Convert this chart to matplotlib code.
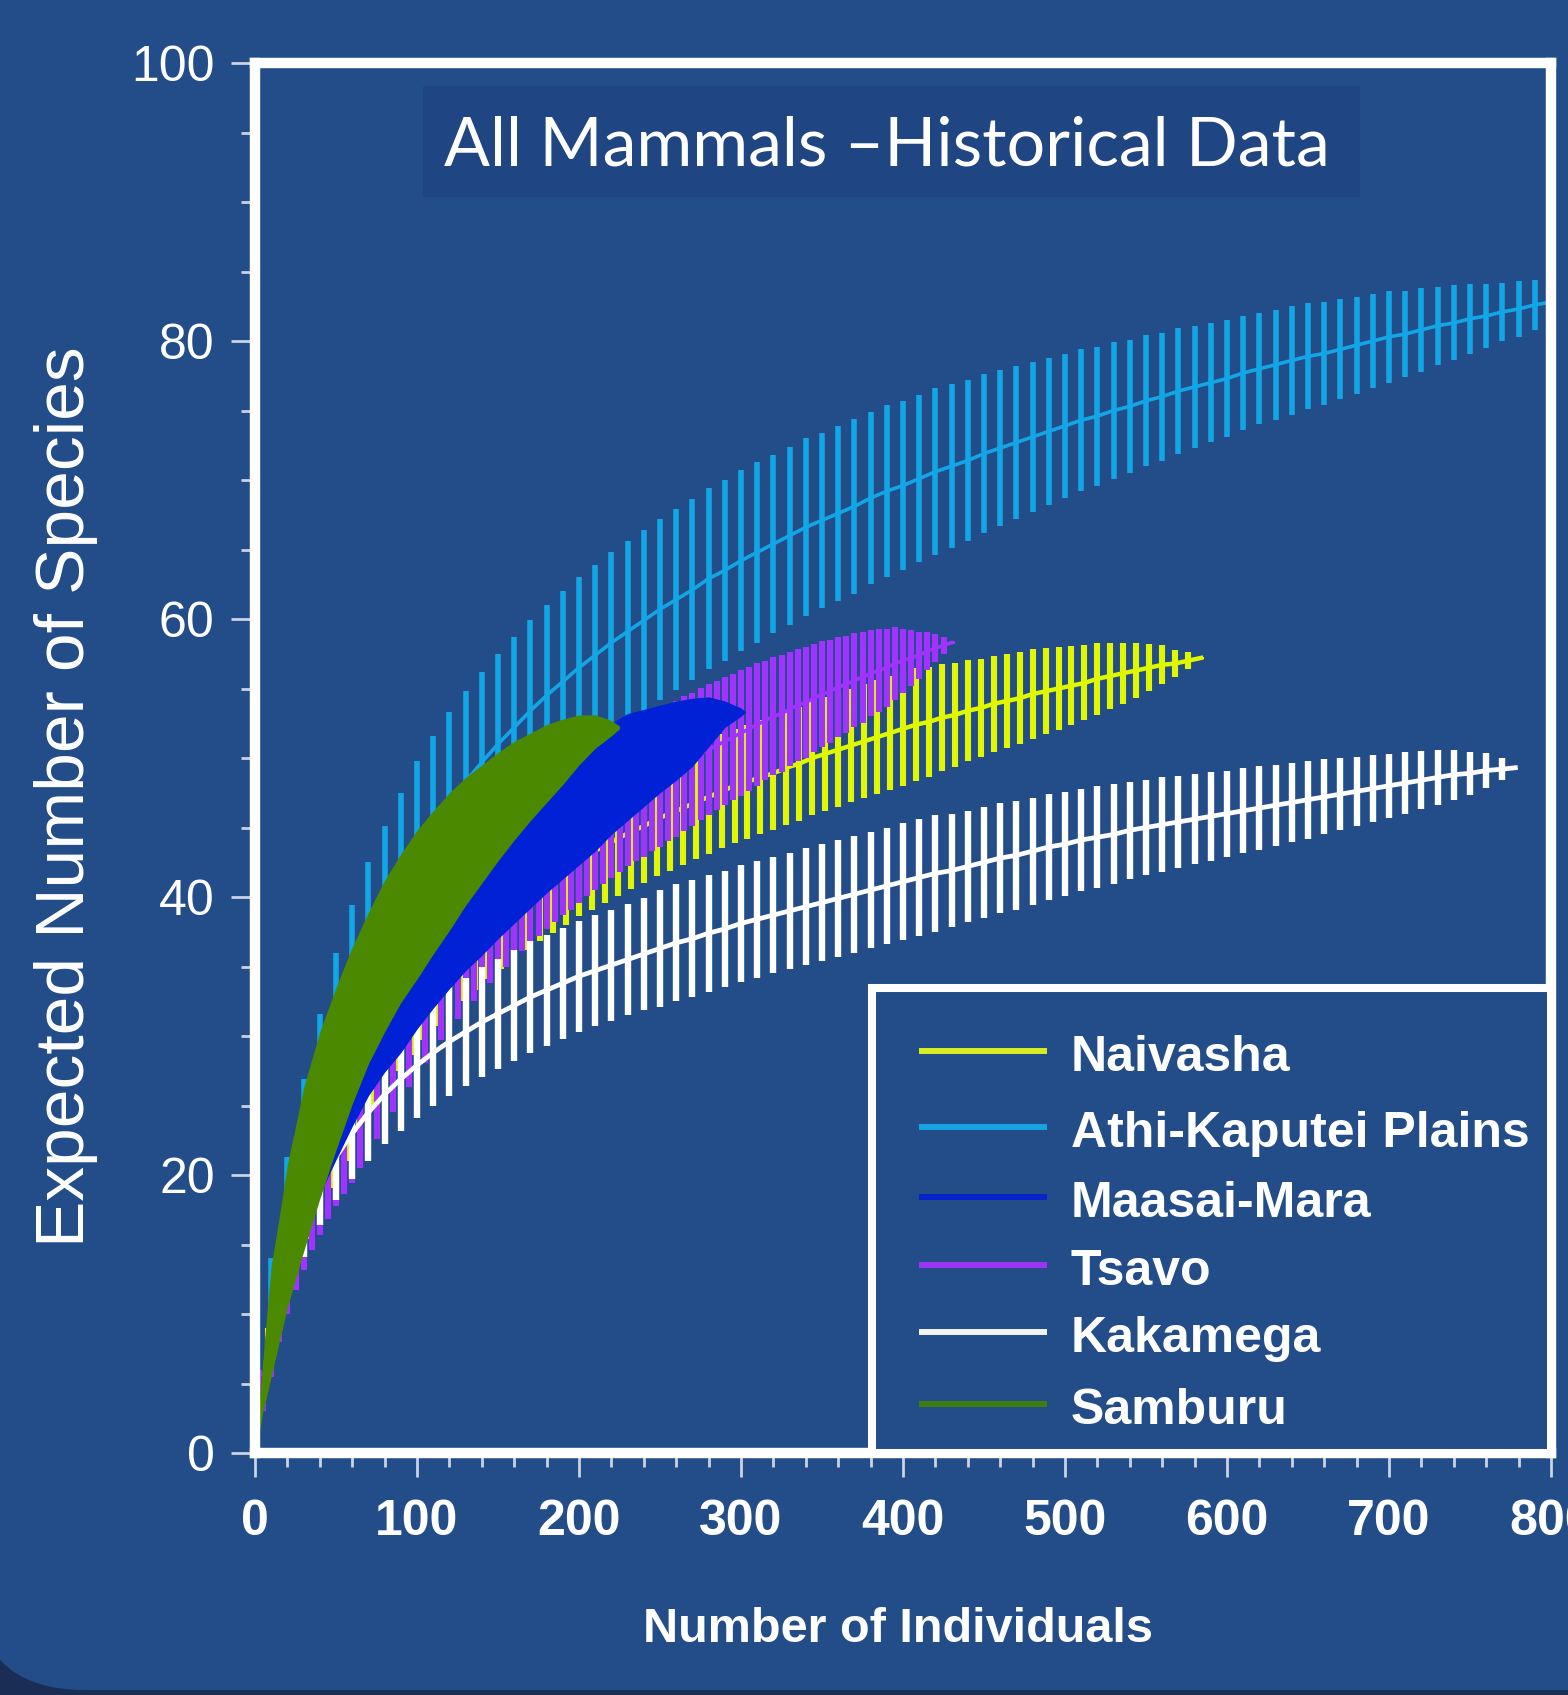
import matplotlib
matplotlib.use("Agg")
import matplotlib.pyplot as plt
from matplotlib.patches import FancyBboxPatch, Rectangle
from matplotlib.ticker import MultipleLocator

# ---- palette -----------------------------------------------------------------
W, H, DPI = 1568, 1695, 100
BG = "#224d89"      # slide blue
EDGE = "#1a2e55"    # dark rim outside the rounded slide
BOX = "#1f4582"     # title box
TICK = "#c9d3e4"
INK = "white"

plt.rcParams["font.family"] = ["Liberation Sans", "DejaVu Sans"]

# ---- data ---------------------------------------------------------------------
# Athi-Kaputei Plains: rarefaction mean and half-width of the error bar
ATHI_X = list(range(10, 801, 10))
ATHI_MEAN = [10.5, 16.5, 21.5, 25.8, 30.0, 33.3, 36.3, 38.8, 41.1, 43.3,
             45.1, 46.8, 48.3, 49.7, 51.0, 52.2, 53.4, 54.5, 55.5, 56.5,
             57.4, 58.3, 59.1, 59.9, 60.7, 61.4, 62.1, 62.9, 63.5, 64.2,
             64.8, 65.4, 66.0, 66.6, 67.1, 67.6, 68.1, 68.7, 69.2, 69.6,
             70.1, 70.6, 71.0, 71.4, 71.9, 72.3, 72.7, 73.1, 73.5, 73.9,
             74.3, 74.6, 75.0, 75.3, 75.7, 76.0, 76.4, 76.7, 77.0, 77.3,
             77.7, 78.0, 78.3, 78.6, 78.9, 79.1, 79.4, 79.7, 80.0, 80.3,
             80.5, 80.8, 81.1, 81.3, 81.6, 81.8, 82.1, 82.3, 82.6, 82.8]
ATHI_ERR = [3.5, 4.8, 5.4, 5.8, 6.0, 6.1, 6.2, 6.3, 6.4, 6.5,
            6.5, 6.5, 6.5, 6.5, 6.5, 6.5, 6.5, 6.5, 6.5, 6.5,
            6.5, 6.5, 6.5, 6.5, 6.5, 6.5, 6.5, 6.5, 6.5, 6.5,
            6.5, 6.4, 6.4, 6.4, 6.3, 6.3, 6.3, 6.2, 6.2, 6.1,
            6.0, 6.0, 5.9, 5.8, 5.7, 5.6, 5.5, 5.4, 5.3, 5.2,
            5.1, 5.0, 4.9, 4.8, 4.7, 4.6, 4.5, 4.4, 4.3, 4.2,
            4.1, 4.0, 3.95, 3.9, 3.8, 3.7, 3.6, 3.5, 3.4, 3.3,
            3.1, 3.0, 2.8, 2.7, 2.5, 2.3, 2.1, 2.0, 1.8, 1.7]

# Kakamega
KAK_X = list(range(10, 771, 10)) + [778]
KAK_MEAN = [8.0, 13.0, 16.5, 19.2, 21.3, 23.0, 24.5, 25.8, 26.9, 27.9,
            28.8, 29.6, 30.3, 31.0, 31.6, 32.2, 32.8, 33.3, 33.8, 34.3,
            34.7, 35.1, 35.5, 35.9, 36.3, 36.7, 37.0, 37.4, 37.7, 38.1,
            38.4, 38.7, 39.0, 39.3, 39.6, 39.9, 40.2, 40.5, 40.8, 41.1,
            41.4, 41.7, 41.9, 42.2, 42.5, 42.8, 43.0, 43.3, 43.6, 43.8,
            44.1, 44.3, 44.5, 44.8, 45.0, 45.2, 45.4, 45.6, 45.8, 46.0,
            46.2, 46.4, 46.6, 46.8, 47.0, 47.2, 47.4, 47.6, 47.8, 48.0,
            48.2, 48.4, 48.6, 48.8, 48.9, 49.1, 49.2, 49.3]
KAK_ERR = [1.0, 1.8, 2.4, 2.8, 3.1, 3.3, 3.5, 3.6, 3.7, 3.8,
           3.85, 3.9, 3.9, 3.95, 3.95, 4.0, 4.0, 4.0, 4.0, 4.0,
           4.0, 4.0, 4.0, 4.0, 4.2, 4.2, 4.2, 4.2, 4.2, 4.2,
           4.2, 4.2, 4.2, 4.2, 4.2, 4.2, 4.2, 4.2, 4.2, 4.2,
           4.2, 4.2, 4.05, 4.0, 4.0, 3.95, 3.9, 3.85, 3.8, 3.75,
           3.7, 3.65, 3.6, 3.5, 3.45, 3.4, 3.3, 3.25, 3.2, 3.1,
           3.05, 3.0, 2.9, 2.85, 2.8, 2.7, 2.6, 2.5, 2.4, 2.3,
           2.2, 2.1, 1.95, 1.8, 1.55, 1.25, 0.8, 0.0]

# Naivasha
NAI_X = list(range(8, 585, 8))
NAI_MEAN = [7.5, 12.5, 16.0, 18.8, 21.0, 23.0, 25.0, 27.1, 28.8, 30.2,
            31.5, 32.7, 33.8, 34.8, 35.7, 36.6, 37.4, 38.2, 38.9, 39.6,
            40.3, 40.9, 41.5, 42.1, 42.7, 43.2, 43.7, 44.2, 44.7, 45.1,
            45.6, 46.0, 46.4, 46.8, 47.2, 47.6, 48.0, 48.3, 48.6, 48.9,
            49.3, 49.6, 50.0, 50.3, 50.6, 50.9, 51.2, 51.5, 51.8, 52.1,
            52.4, 52.6, 52.9, 53.1, 53.4, 53.6, 53.9, 54.1, 54.3, 54.6,
            54.8, 55.0, 55.2, 55.4, 55.7, 55.9, 56.1, 56.3, 56.5, 56.7,
            56.8, 57.0, 57.2]
NAI_ERR = [1.5, 2.5, 3.0, 3.4, 3.7, 3.9, 4.0, 4.0, 4.0, 4.0,
           4.05, 4.05, 4.1, 4.1, 4.1, 4.1, 4.1, 4.1, 4.1, 4.1,
           4.1, 4.1, 4.1, 4.1, 4.1, 4.1, 4.1, 4.1, 4.1, 4.1,
           4.1, 4.1, 4.1, 4.1, 4.1, 4.1, 4.1, 4.1, 4.1, 4.1,
           4.1, 4.1, 4.1, 4.1, 4.1, 4.1, 4.1, 4.1, 4.1, 4.1,
           4.05, 3.95, 3.85, 3.75, 3.65, 3.55, 3.45, 3.4, 3.3, 3.25,
           3.1, 3.0, 2.85, 2.7, 2.6, 2.4, 2.2, 2.0, 1.7, 1.4,
           1.0, 0.6, 0.1]

# Tsavo
TSA_X = list(range(5, 431, 5))
TSA_MEAN = [4.5, 8.0, 11.0, 13.5, 15.5, 17.2, 18.7, 20.0, 21.2, 22.3,
            23.2, 24.0, 25.2, 26.3, 27.3, 28.3, 29.3, 30.2, 31.1, 32.0,
            32.85, 33.7, 34.5, 35.3, 36.0, 36.7, 37.4, 38.0, 38.7, 39.3,
            39.9, 40.5, 41.0, 41.6, 42.1, 42.6, 43.1, 43.6, 44.0, 44.5,
            45.0, 45.4, 45.8, 46.3, 46.7, 47.1, 47.5, 47.8, 48.2, 48.5,
            48.9, 49.2, 49.6, 49.9, 50.3, 50.6, 50.9, 51.2, 51.5, 51.8,
            52.1, 52.4, 52.7, 53.0, 53.2, 53.5, 53.8, 54.0, 54.3, 54.6,
            54.8, 55.1, 55.3, 55.6, 55.8, 56.1, 56.3, 56.5, 56.8, 57.0,
            57.2, 57.4, 57.7, 57.9, 58.1, 58.3]
TSA_ERR = [1.5, 2.5, 3.0, 3.5, 3.8, 4.0, 4.1, 4.3, 4.4, 4.5,
           4.6, 4.6, 4.7, 4.7, 4.7, 4.8, 4.8, 4.8, 4.8, 4.8,
           4.8, 4.8, 4.8, 4.8, 4.8, 4.9, 4.9, 4.9, 4.9, 4.9,
           4.9, 4.9, 4.9, 4.9, 4.9, 4.9, 4.9, 4.9, 4.9, 4.9,
           4.9, 4.9, 4.9, 4.9, 4.9, 4.9, 4.9, 4.9, 4.9, 4.9,
           4.9, 4.9, 4.85, 4.8, 4.75, 4.7, 4.65, 4.6, 4.55, 4.5,
           4.45, 4.4, 4.3, 4.25, 4.2, 4.1, 4.05, 4.0, 3.9, 3.8,
           3.7, 3.6, 3.5, 3.4, 3.3, 3.1, 3.0, 2.8, 2.6, 2.3,
           2.0, 1.7, 1.4, 1.0, 0.6, 0.1]

# Maasai-Mara and Samburu: bars so dense they read as solid bands (lower / upper)
MAA_X = [2, 5, 10, 15, 20, 25, 30, 40, 50, 60, 70, 80, 90, 100, 110, 120, 130,
         140, 150, 160, 170, 180, 190, 200, 210, 220, 230, 240, 250, 260, 270,
         280, 290, 300, 303]
MAA_LO = [1, 3, 6, 8.5, 10.7, 13.2, 15.3, 18.6, 21.1, 23.5, 25.7, 27.4, 28.8,
          30.5, 32.0, 33.4, 34.7, 35.8, 37.0, 38.1, 39.2, 40.3, 41.3, 42.3,
          43.3, 44.5, 45.5, 46.5, 47.5, 48.4, 49.4, 50.8, 52.2, 53.0, 53.3]
MAA_HI = [3, 7, 12, 15.5, 18.7, 21.4, 23.7, 27.4, 30.3, 32.7, 34.9, 36.8, 38.6,
          40.2, 41.6, 42.9, 44.2, 45.4, 46.5, 47.5, 48.4, 49.3, 50.1, 50.9,
          51.7, 52.5, 53.2, 53.5, 53.8, 54.1, 54.3, 54.4, 54.1, 53.6, 53.3]

SAM_X = [2, 5, 10, 15, 20, 25, 30, 40, 50, 60, 70, 80, 90, 100, 110, 120, 130,
         140, 150, 160, 170, 180, 190, 200, 210, 220, 225]
SAM_LO = [1, 3, 5.5, 8, 10.5, 12.5, 14.5, 18.3, 21.8, 25.1, 28.0, 30.3, 32.4,
          34.1, 35.9, 37.6, 39.4, 41.0, 42.6, 44.1, 45.5, 46.8, 48.1, 49.5,
          50.7, 51.6, 52.1]
SAM_HI = [3, 7, 13.5, 17, 20.8, 23.5, 26.3, 30.3, 33.5, 36.4, 38.9, 41.2, 43.1,
          44.8, 46.2, 47.5, 48.6, 49.5, 50.4, 51.2, 51.8, 52.4, 52.8, 53.1,
          53.1, 52.7, 52.3]

LEGEND_LABELS = ["Naivasha", "Athi-Kaputei Plains", "Maasai-Mara", "Tsavo",
                 "Kakamega", "Samburu"]
LEGEND_COLORS = ["#d8ec22", "#18a3e3", "#0624cc", "#9b35f5", "#f2f2f2", "#3f7d12"]

C_ATHI, C_TSA, C_NAI = "#13a6e6", "#a033ff", "#dff700"
C_KAK, C_MAA, C_SAM = "#ffffff", "#0021d6", "#4b8a00"


# ---- canvas --------------------------------------------------------------------
fig = plt.figure(figsize=(W / DPI, H / DPI), dpi=DPI)
fig.patch.set_facecolor(EDGE)
bg = fig.add_axes([0, 0, 1, 1], zorder=-10)
bg.set_xlim(0, W); bg.set_ylim(H, 0); bg.axis("off")        # pixel coords, y down
bg.add_patch(FancyBboxPatch((-25, -200), W + 250, 1890,
                            boxstyle="round,pad=0,rounding_size=110",
                            fc=BG, ec="none"))
bg.add_patch(Rectangle((423, 86), 937, 111, fc=BOX, ec="none"))
bg.text(887, 166, "All Mammals \u2013Historical Data", ha="center", va="baseline",
        fontsize=49, color=INK, family=["Lato", "DejaVu Sans"])

ax = fig.add_axes([255 / W, 1 - 1453 / H, 1296 / W, 1390 / H])
ax.set_facecolor("none")
ax.set_xlim(0, 800)
ax.set_ylim(0, 100)


def bars(x, mean, err, color, lw, mlw, z):
    lo = [m - e for m, e in zip(mean, err)]
    hi = [m + e for m, e in zip(mean, err)]
    ax.vlines(x, lo, hi, colors=color, lw=lw, zorder=z)
    ax.plot(x, mean, color=color, lw=mlw, zorder=z + 0.1)


# stacking as in the picture: cyan at the back, green on top
bars(ATHI_X, ATHI_MEAN, ATHI_ERR, C_ATHI, 4.0, 2.6, 2)
bars(NAI_X, NAI_MEAN, NAI_ERR, C_NAI, 4.4, 3.2, 3)
bars(TSA_X, TSA_MEAN, TSA_ERR, C_TSA, 4.4, 2.6, 4)
bars(KAK_X, KAK_MEAN, KAK_ERR, C_KAK, 4.6, 3.4, 5)
ax.fill_between(MAA_X, MAA_LO, MAA_HI, color=C_MAA, lw=0, zorder=6)
ax.fill_between(SAM_X, SAM_LO, SAM_HI, color=C_SAM, lw=0, zorder=7)

# ---- axes styling -----------------------------------------------------------------
for s in ax.spines.values():
    s.set_color("white")
    s.set_linewidth(7.5)
    s.set_zorder(8)
ax.xaxis.set_major_locator(MultipleLocator(100))
ax.xaxis.set_minor_locator(MultipleLocator(20))
ax.yaxis.set_major_locator(MultipleLocator(20))
ax.yaxis.set_minor_locator(MultipleLocator(5))
ax.tick_params(which="both", direction="out", color=TICK, width=2,
               top=False, right=False)
ax.tick_params(which="major", length=17)
ax.tick_params(which="minor", length=10)
ax.tick_params(axis="y", labelsize=36, labelcolor=INK, pad=12)
ax.tick_params(axis="x", labelsize=36, labelcolor=INK, pad=16)
for t in ax.get_xticklabels():
    t.set_fontweight("bold")

# ---- legend, laid out by hand in pixel coords (sits in the lower-right corner) ----
ov = fig.add_axes([0, 0, 1, 1], zorder=10)
ov.set_xlim(0, W); ov.set_ylim(H, 0); ov.axis("off"); ov.patch.set_alpha(0)
ov.add_patch(Rectangle((872, 988), 1551 - 872, 1453 - 988, fc=BG, ec="white",
                       lw=5.8, joinstyle="miter"))
row_y = [1051, 1127, 1197, 1265, 1332, 1404]
for y, lab, col in zip(row_y, LEGEND_LABELS, LEGEND_COLORS):
    ov.plot([919, 1047], [y, y], color=col, lw=4.3, solid_capstyle="butt")
    ov.text(1071, y + 20, lab, ha="left", va="baseline", fontsize=36,
            fontweight="bold", color=INK)

fig.text(898 / W, 1 - 1630 / H, "Number of Individuals", ha="center", va="center",
         fontsize=35, fontweight="bold", color=INK)
fig.text(66 / W, 1 - 797 / H, "Expected Number of Species", rotation=90,
         ha="center", va="center", fontsize=50, color=INK)

fig.savefig("out.png", dpi=DPI, facecolor=fig.get_facecolor())
